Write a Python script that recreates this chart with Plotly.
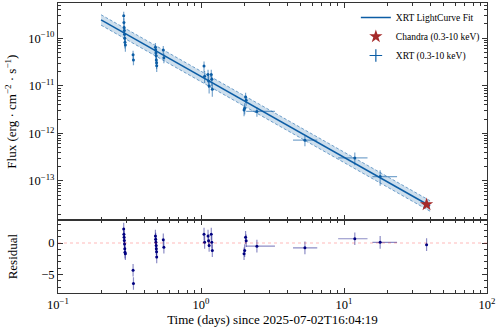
import plotly.graph_objects as go
from plotly.subplots import make_subplots

# XRT light curve points (days since trigger, flux in erg/cm2/s)
xrt_t = [0.288, 0.289, 0.290, 0.291, 0.292, 0.293, 0.294, 0.296,
         0.335, 0.337,
         0.480, 0.482, 0.484, 0.486, 0.487, 0.489, 0.490,
         0.545, 0.550,
         1.05, 1.06, 1.12, 1.13, 1.14, 1.18, 1.19, 1.20,
         2.00, 2.02, 2.05, 2.07,
         2.46, 5.33, 11.9, 17.9]
xrt_flux = [2.98e-10, 2.14e-10, 1.69e-10, 1.46e-10, 1.21e-10, 1.0e-10, 8.3e-11, 7.2e-11,
            4.5e-11, 3.5e-11,
            6.5e-11, 5.7e-11, 4.9e-11, 4.3e-11, 3.5e-11, 3.05e-11, 2.65e-11,
            5.7e-11, 3.9e-11,
            2.6e-11, 1.6e-11, 1.73e-11, 1.26e-11, 9.9e-12, 1.73e-11, 1.37e-11, 8.5e-12,
            3.1e-12, 3.4e-12, 5.8e-12, 5.0e-12,
            2.9e-12, 7.2e-13, 3.05e-13, 1.24e-13]
xrt_flux_err = [6.5e-11, 5.0e-11, 4.0e-11, 3.5e-11, 3.0e-11, 2.6e-11, 2.2e-11, 2.0e-11,
                1.0e-11, 8.0e-12,
                1.5e-11, 1.3e-11, 1.2e-11, 1.1e-11, 9.0e-12, 8.0e-12, 7.0e-12,
                1.2e-11, 9.0e-12,
                6.5e-12, 4.5e-12, 4.5e-12, 3.5e-12, 3.0e-12, 4.5e-12, 3.8e-12, 2.6e-12,
                8.0e-13, 9.0e-13, 1.4e-12, 1.2e-12,
                6.5e-13, 1.8e-13, 9.0e-14, 4.5e-14]
xrt_t_minus = [0] * 31 + [0.39, 0.93, 2.8, 2.1]
xrt_t_plus = [0] * 31 + [0.83, 1.17, 2.7, 5.6]
xrt_resid = [2.2, 1.4, 0.9, 0.4, -0.15, -0.9, -1.45, -1.7,
             -4.3, -6.4,
             1.1, 0.6, 0.1, -0.4, -0.9, -1.4, -2.2,
             0.5, -0.67,
             1.4, 0.1, 1.1, 0.36, -0.4, 1.4, 0.1, -1.2,
             -1.7, -1.2, 0.9, 0.35,
             -0.5, -0.77, 0.67, 0.1]

# Chandra point
chandra_t = [37.8]
chandra_flux = [3.2e-14]
chandra_resid = [-0.26]

# power-law fit (straight in log-log) and its 1-sigma band
fit_t = [0.2, 40]
fit_flux = [2.43e-10, 2.98e-14]
fit_upper = [3.13e-10, 3.84e-14]
fit_lower = [1.89e-10, 2.31e-14]

blue = "#0C5DA5"
navy = "#000080"
font = "Liberation Serif"

fig = make_subplots(rows=2, cols=1, shared_xaxes=True, vertical_spacing=0,
                    row_heights=[0.749, 0.251])

fig.add_trace(go.Scatter(x=fit_t, y=fit_lower, mode="lines",
                         line=dict(color="rgba(12,93,165,0.55)", width=1, dash="3px,2px"),
                         showlegend=False, hoverinfo="skip"), row=1, col=1)
fig.add_trace(go.Scatter(x=fit_t, y=fit_upper, mode="lines", fill="tonexty",
                         fillcolor="rgba(12,93,165,0.2)",
                         line=dict(color="rgba(12,93,165,0.55)", width=1, dash="3px,2px"),
                         showlegend=False, hoverinfo="skip"), row=1, col=1)
fig.add_trace(go.Scatter(x=fit_t, y=fit_flux, mode="lines", name="XRT LightCurve Fit",
                         line=dict(color=blue, width=1.5)), row=1, col=1)

fig.add_trace(go.Scatter(x=xrt_t, y=xrt_flux, mode="markers", showlegend=False,
                         marker=dict(color=blue, size=3),
                         error_y=dict(type="data", array=xrt_flux_err, color="rgba(12,93,165,0.55)",
                                      thickness=1.2, width=0),
                         error_x=dict(type="data", array=xrt_t_plus, arrayminus=xrt_t_minus,
                                      color="rgba(12,93,165,0.55)", thickness=1.2, width=0)),
              row=1, col=1)

fig.add_trace(go.Scatter(x=chandra_t, y=chandra_flux, mode="markers", name="Chandra (0.3-10 keV)",
                         marker=dict(color="#A52A2A", symbol="star", size=10)), row=1, col=1)

# legend-only entry with an errorbar-like cross
fig.add_trace(go.Scatter(x=[None], y=[None], mode="markers", name="XRT (0.3-10 keV)",
                         marker=dict(color=blue, symbol="cross-thin", size=9,
                                     line=dict(color=blue, width=1.2))), row=1, col=1)

fig.add_trace(go.Scatter(x=xrt_t + chandra_t, y=xrt_resid + chandra_resid, mode="markers",
                         showlegend=False, marker=dict(color=navy, size=3),
                         error_y=dict(type="constant", value=1, color="rgba(0,0,128,0.45)",
                                      thickness=1.2, width=0),
                         error_x=dict(type="data", array=xrt_t_plus + [0], arrayminus=xrt_t_minus + [0],
                                      color="rgba(0,0,128,0.45)", thickness=1.2, width=0)),
              row=2, col=1)

fig.add_hline(y=0, line=dict(color="rgba(255,0,0,0.35)", width=0.8, dash="dot"), row=2, col=1)

x_major = [0.1, 1, 10, 100]
x_text = ["10<sup>−1</sup>", "10<sup>0</sup>", "10<sup>1</sup>", "10<sup>2</sup>"]
x_minor = [m * d for d in [0.1, 1, 10] for m in range(2, 10)]
y_major = [1e-10, 1e-11, 1e-12, 1e-13]
y_text = ["10<sup>−10</sup>", "10<sup>−11</sup>", "10<sup>−12</sup>", "10<sup>−13</sup>"]
y_minor = [m * d for d in [1e-14, 1e-13, 1e-12, 1e-11, 1e-10] for m in range(2, 10)]

axis_style = dict(showline=True, linecolor="#333", linewidth=1, mirror="allticks",
                  ticks="inside", ticklen=5, tickcolor="#333", showgrid=False, zeroline=False,
                  tickfont=dict(family=font, size=12.5, color="black"))

fig.update_xaxes(type="log", range=[-1, 2], tickmode="array", tickvals=x_major, ticktext=x_text,
                 minor=dict(tickmode="array", tickvals=x_minor, ticks="inside", ticklen=3,
                            tickcolor="#333"),
                 **axis_style)
fig.update_xaxes(showticklabels=False, row=1, col=1)
fig.update_xaxes(ticklabelstandoff=0,
                 title=dict(text="Time (days) since 2025-07-02T16:04:19", standoff=4,
                            font=dict(family=font, size=13, color="black")), row=2, col=1)

fig.update_yaxes(type="log", range=[-13.825, -9.258], tickmode="array", tickvals=y_major,
                 ticktext=y_text,
                 minor=dict(tickmode="array", tickvals=y_minor, ticks="inside", ticklen=3,
                            tickcolor="#333"),
                 title=dict(text="Flux (erg · cm<sup>−2</sup> · s<sup>−1</sup>)", standoff=8,
                            font=dict(family=font, size=13, color="black")),
                 row=1, col=1, **axis_style)
fig.update_yaxes(range=[-7.9, 3.6], tickmode="array", tickvals=[-5, 0], ticktext=["−5", "0"],
                 minor=dict(tickmode="array", tickvals=[-7, -6, -4, -3, -2, -1, 1, 2, 3],
                            ticks="inside", ticklen=3, tickcolor="#333"),
                 title=dict(text="Residual", standoff=20,
                            font=dict(family=font, size=13, color="black")),
                 row=2, col=1, **axis_style)

fig.update_layout(width=498, height=327, margin=dict(l=58, r=11, t=2, b=30),
                  plot_bgcolor="white", paper_bgcolor="white",
                  font=dict(family=font, size=10, color="black"),
                  legend=dict(x=0.995, y=1.0, xanchor="right", yanchor="top",
                              traceorder="normal",
                              bgcolor="rgba(0,0,0,0)", font=dict(family=font, size=9.5),
                              itemwidth=30, tracegroupgap=0))

fig.write_html("out.html", config={"displayModeBar": False},
               post_script="document.body.style.margin='0';")
